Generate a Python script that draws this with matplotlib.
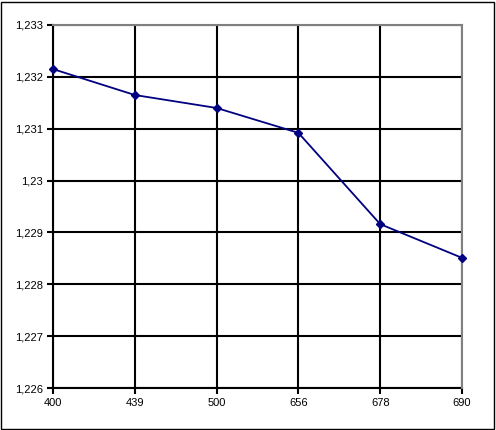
import matplotlib
matplotlib.use("Agg")
import matplotlib.pyplot as plt
from matplotlib.patches import Rectangle

categories = ["400", "439", "500", "656", "678", "690"]
values = [1.23215, 1.23165, 1.2314, 1.23092, 1.22916, 1.22851]
yticks = [1.226, 1.227, 1.228, 1.229, 1.230, 1.231, 1.232, 1.233]
ytick_labels = ["1,226", "1,227", "1,228", "1,229", "1,23", "1,231", "1,232", "1,233"]

plt.rcParams['font.family'] = ['Liberation Sans', 'DejaVu Sans']
fig = plt.figure(figsize=(4.96, 4.30), dpi=100)
ax = fig.add_axes([53/496, 42/430, 409/496, 363/430])

x = list(range(len(categories)))
ax.plot(x, values, color="#000080", lw=1.3, marker="D", ms=4.5, zorder=5, clip_on=False)

ax.set_xlim(0, len(categories) - 1)
ax.set_ylim(yticks[0], yticks[-1])
ax.set_xticks(x)
ax.set_xticklabels(categories, fontsize=8)
ax.set_yticks(yticks)
ax.set_yticklabels(ytick_labels, fontsize=8)
ax.grid(True, color="black", lw=1.5)
ax.tick_params(length=4, width=1.5, color="black", direction="out", pad=3)
for s in ["left", "bottom"]:
    ax.spines[s].set_color("black")
    ax.spines[s].set_linewidth(1.5)
for s in ["top", "right"]:
    ax.spines[s].set_color("#808080")
    ax.spines[s].set_linewidth(1.5)
    ax.spines[s].set_zorder(4)

fig.patches.append(Rectangle((0.5/496, 1.5/430), 493/496, 427/430, transform=fig.transFigure,
                             fill=False, edgecolor="black", lw=1.0))
fig.savefig("out.png", dpi=100)
